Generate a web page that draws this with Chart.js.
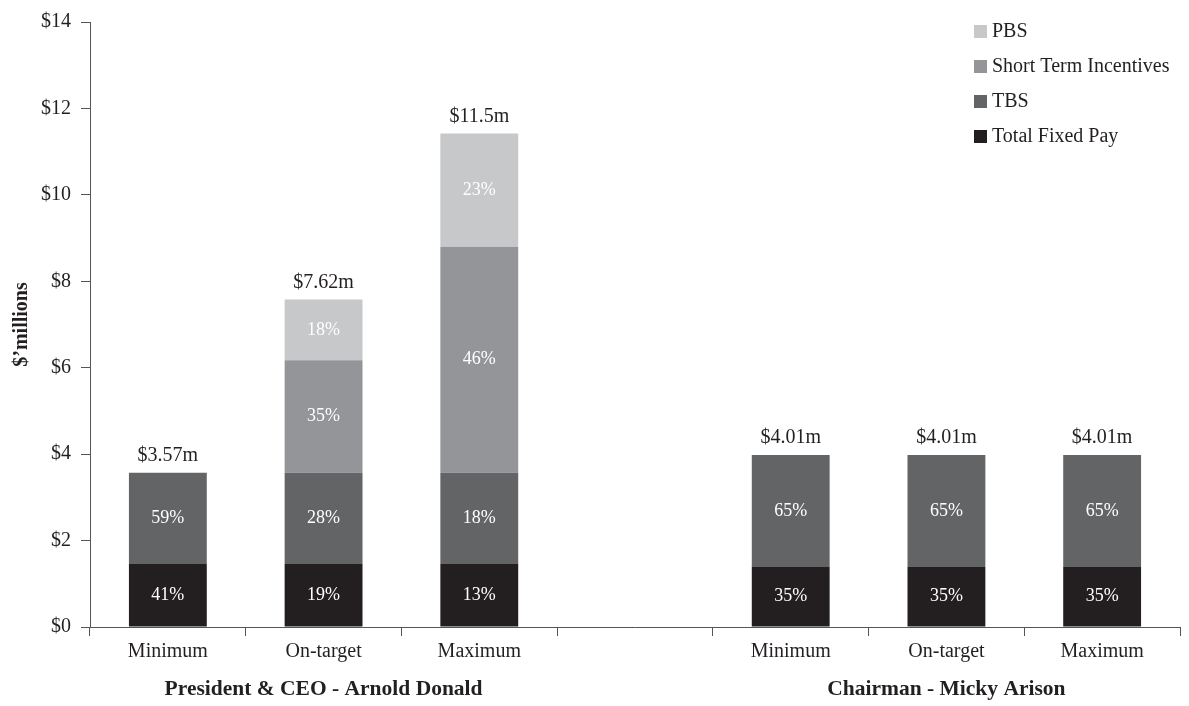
<!DOCTYPE html>
<html>
<head>
<meta charset="utf-8">
<script src="https://cdn.jsdelivr.net/npm/chart.js@4/dist/chart.umd.min.js"></script>
<style>
  html, body { margin: 0; padding: 0; background: #fff; }
  #wrap { width: 1189px; height: 706px; }
</style>
</head>
<body>
<div id="wrap"><canvas id="myChart" width="1189" height="706"></canvas></div>
<script>
// categories (blank slot separates the two executives)
const categories = ['Minimum', 'On-target', 'Maximum', '', 'Minimum', 'On-target', 'Maximum'];
const groupNames = ['President & CEO - Arnold Donald', 'Chairman - Micky Arison'];
const groupCenters = [1, 5];

// $ millions per component
const fixedPay = [1.46, 1.46, 1.46, null, 1.39, 1.39, 1.39];
const tbs      = [2.11, 2.11, 2.11, null, 2.59, 2.59, 2.59];
const sti      = [null, 2.60, 5.23, null, null, null, null];
const pbs      = [null, 1.41, 2.62, null, null, null, null];

// labels as printed
const fixedPct = ['41%', '19%', '13%', '', '35%', '35%', '35%'];
const tbsPct   = ['59%', '28%', '18%', '', '65%', '65%', '65%'];
const stiPct   = ['', '35%', '46%', '', '', '', ''];
const pbsPct   = ['', '18%', '23%', '', '', '', ''];
const totals   = ['$3.57m', '$7.62m', '$11.5m', '', '$4.01m', '$4.01m', '$4.01m'];

const yTicks = [0, 2, 4, 6, 8, 10, 12, 14];

const FONT = '"Liberation Serif", "Times New Roman", serif';
const INK = '#231f20';

const data = {
  labels: categories,
  datasets: [
    { label: 'Total Fixed Pay', data: fixedPay, backgroundColor: '#231f20', pct: fixedPct },
    { label: 'TBS', data: tbs, backgroundColor: '#636466', pct: tbsPct },
    { label: 'Short Term Incentives', data: sti, backgroundColor: '#939598', pct: stiPct },
    { label: 'PBS', data: pbs, backgroundColor: '#c7c8ca', pct: pbsPct }
  ]
};

// percentage text inside bars, totals above, group names, legend
const labelsPlugin = {
  id: 'labelsPlugin',
  afterDatasetsDraw(chart) {
    const ctx = chart.ctx;
    ctx.save();
    ctx.font = '18px ' + FONT;
    ctx.fillStyle = '#ffffff';
    ctx.textAlign = 'center';
    ctx.textBaseline = 'middle';
    chart.data.datasets.forEach((ds, i) => {
      chart.getDatasetMeta(i).data.forEach((bar, j) => {
        if (ds.data[j] == null || !ds.pct[j]) return;
        ctx.fillText(ds.pct[j], bar.x, (bar.y + bar.base) / 2);
      });
    });
    // totals above each stack
    ctx.fillStyle = INK;
    ctx.font = '20px ' + FONT;
    ctx.textBaseline = 'bottom';
    const y = chart.scales.y;
    categories.forEach((c, j) => {
      if (!totals[j]) return;
      let sum = 0;
      chart.data.datasets.forEach(ds => { sum += ds.data[j] || 0; });
      ctx.fillText(totals[j], chart.scales.x.getPixelForValue(j), y.getPixelForValue(sum) - 7);
    });
    ctx.restore();
  },
  afterDraw(chart) {
    const ctx = chart.ctx;
    const x = chart.scales.x;
    ctx.save();
    ctx.fillStyle = INK;
    ctx.font = 'bold 21.5px ' + FONT;
    ctx.textAlign = 'center';
    ctx.textBaseline = 'middle';
    groupNames.forEach((g, k) => {
      ctx.fillText(g, x.getPixelForValue(groupCenters[k]), 689);
    });
    // legend, top to bottom in reverse stack order
    ctx.font = '20px ' + FONT;
    ctx.textAlign = 'left';
    const items = chart.data.datasets.slice().reverse();
    items.forEach((ds, k) => {
      const cy = 31 + k * 35;
      ctx.fillStyle = ds.backgroundColor;
      ctx.fillRect(974, cy - 6, 13, 13);
      ctx.fillStyle = INK;
      ctx.fillText(ds.label, 992, cy + 1);
    });
    ctx.restore();
  }
};

const config = {
  type: 'bar',
  data,
  options: {
    responsive: false,
    animation: false,
    layout: { padding: { left: 10, top: 17, right: 9, bottom: 0 } },
    datasets: { bar: { barPercentage: 0.5, categoryPercentage: 1.0 } },
    plugins: { legend: { display: false }, tooltip: { enabled: false } },
    scales: {
      x: {
        stacked: true,
        grid: { offset: true, drawOnChartArea: false, tickLength: 9, color: '#555', lineWidth: 1 },
        border: { color: '#555', width: 1 },
        ticks: { color: INK, font: { family: FONT, size: 20 }, padding: 4 },
        afterFit(s) { s.height = 79; }
      },
      y: {
        stacked: true,
        min: 0,
        max: 14,
        afterBuildTicks(s) { s.ticks = yTicks.map(v => ({ value: v })); },
        grid: { drawOnChartArea: false, tickLength: 9, color: '#555' },
        border: { color: '#555', width: 1 },
        ticks: { color: INK, font: { family: FONT, size: 20 }, padding: 10, callback: v => '$' + v },
        title: { display: true, text: '$\u2019millions', color: INK, font: { family: FONT, size: 20, weight: 'bold' }, padding: 0 },
        afterFit(s) { s.width = 80; }
      }
    }
  },
  plugins: [labelsPlugin]
};

const myChart = new Chart(document.getElementById('myChart'), config);
</script>
</body>
</html>
